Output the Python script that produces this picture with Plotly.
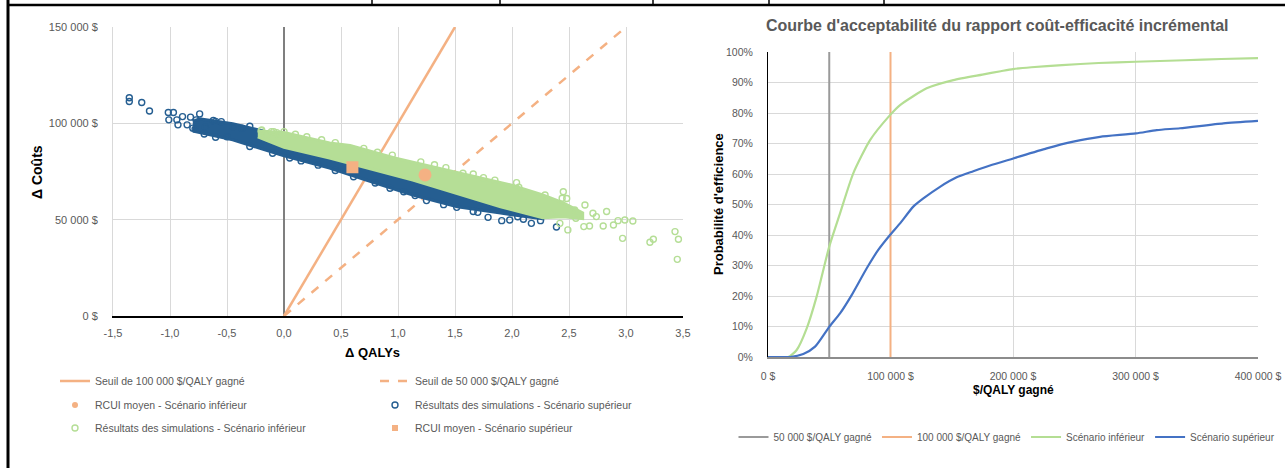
import plotly.graph_objects as go

# ---------------- DATA ----------------
# Left chart: incremental cost-effectiveness plane
left_xtick_vals = [-1.5, -1.0, -0.5, 0.0, 0.5, 1.0, 1.5, 2.0, 2.5, 3.0, 3.5]
left_xtick_text = ["-1,5", "-1,0", "-0,5", "0,0", "0,5", "1,0", "1,5", "2,0", "2,5", "3,0", "3,5"]
left_ytick_vals = [0, 50000, 100000, 150000]
left_ytick_text = ["0 $", "50 000 $", "100 000 $", "150 000 $"]

# WTP threshold lines (Δ cost = WTP × Δ QALY)
seuil_100k_x = [0.0, 1.5]
seuil_100k_y = [0, 150000]
seuil_50k_x = [0.0, 3.0]
seuil_50k_y = [0, 150000]

# Dense core of simulated results – outline of the cloud
sup_band_x = [-0.80, -0.74, -0.45, -0.23, 0.00, 0.50, 1.00, 1.50, 2.00, 2.27,
              2.27, 2.00, 1.90, 1.52, 1.13, 0.70, 0.40, 0.00, -0.45, -0.80]
sup_band_y = [101000, 102300, 99800, 96600, 93500, 86500, 78000, 69000, 59000, 53000,
              50500, 52500, 53500, 56700, 62800, 71000, 76800, 83200, 91400, 96000]

inf_band_x = [-0.23, 0.00, 0.40, 0.58, 0.97, 1.55, 1.99, 2.27, 2.45, 2.62,
              2.62, 2.45, 2.27, 1.90, 1.13, 0.40, 0.00, -0.23]
inf_band_y = [96000, 95300, 89800, 88500, 82000, 74200, 68000, 62800, 58700, 53500,
              50500, 51500, 51000, 56700, 70600, 82000, 87500, 93000]

# Individually visible simulation points (edges and outliers)
sup_pts_x = [-1.357, -1.357, -1.248, -1.18, -1.015, -0.97, -1.01, -0.94, -0.89, -0.93,
             -0.82, -0.74, -0.85, -0.77, -0.445, -0.37, -0.55, -0.80, -0.69, -0.62,
             -0.60, -0.30, -0.10, 0.15, 0.30, 0.61, 0.93, 1.15, 1.25, 1.515,
             1.66, 1.79, 1.91, 1.98, 2.10, 2.17, 2.25, 2.39, 0.80, 1.40,
             -0.60, -0.30, -0.70, -0.50, 0.05, 0.45, 1.05, 1.70, 2.05, -0.78]
sup_pts_y = [113300, 111300, 110800, 106400, 105600, 105600, 101800, 101800, 103500, 99200,
             103200, 104900, 99200, 101800, 98300, 97500, 100900, 97500, 98000, 101500,
             92800, 88000, 84500, 80500, 78300, 72300, 66300, 62500, 59900, 56400,
             54200, 51200, 49500, 49800, 50200, 48100, 49500, 46200, 69000, 57800,
             101000, 98500, 94500, 93000, 82000, 75500, 64500, 53800, 51500, 97000]

inf_pts_x = [-0.196, -0.11, -0.064, 0.00, -0.15, -0.05, -0.20, -0.09, 0.20, 0.45,
             0.70, 0.95, 1.20, 1.42, 1.57, 1.66, 1.85, 2.04, 2.06, 2.29,
             2.45, 2.44, 2.48, 2.64, 2.83, 2.71, 2.74, 2.93, 2.99, 3.06,
             2.89, 2.80, 2.63, 2.49, 2.97, 3.21, 3.24, 3.43, 3.46, 3.45,
             2.56, 2.68, 2.42, 2.55, 2.35, 0.10, 0.33, 0.82, 1.32, 1.75]
inf_pts_y = [96600, 95700, 95200, 95700, 94000, 94000, 96200, 95700, 93000, 90000,
             87000, 83500, 80000, 77000, 74100, 73700, 70500, 69200, 66800, 62800,
             64500, 61100, 61000, 57600, 54200, 53300, 51600, 49500, 49800, 49300,
             47200, 46700, 46400, 44700, 40300, 38300, 39800, 43800, 39800, 29400,
             50700, 46700, 48100, 55000, 53000, 94300, 91500, 85000, 78500, 71800]

# Mean ICERs
rcui_inf_x = [1.237]
rcui_inf_y = [73200]
rcui_sup_x = [0.60]
rcui_sup_y = [77200]

# Right chart: cost-effectiveness acceptability curves
right_xtick_vals = [0, 100000, 200000, 300000, 400000]
right_xtick_text = ["0 $", "100 000 $", "200 000 $", "300 000 $", "400 000 $"]
right_ytick_vals = [0, 0.1, 0.2, 0.3, 0.4, 0.5, 0.6, 0.7, 0.8, 0.9, 1.0]
right_ytick_text = ["0%", "10%", "20%", "30%", "40%", "50%", "60%", "70%", "80%", "90%", "100%"]

wtp_inf = [0, 16600, 23400, 31600, 39700, 50000, 58800, 69600, 83300, 99600, 107800,
           129500, 151300, 175000, 190000, 200000, 215000, 240000, 270000, 300000,
           340000, 370000, 400000]
prob_inf = [0.0, 0.0, 0.023, 0.094, 0.198, 0.362, 0.471, 0.602, 0.711, 0.793, 0.826,
            0.881, 0.908, 0.926, 0.937, 0.944, 0.950, 0.957, 0.964, 0.968,
            0.973, 0.977, 0.980]

wtp_sup = [0, 18000, 28800, 38400, 50000, 58800, 68300, 80600, 90000, 99600, 107800,
           118600, 126800, 140400, 154000, 167600, 181200, 200200, 227500, 249200,
           271000, 300400, 317300, 336300, 371700, 400000]
prob_sup = [0.0, 0.0, 0.010, 0.034, 0.099, 0.143, 0.203, 0.291, 0.351, 0.400, 0.438,
            0.493, 0.520, 0.558, 0.589, 0.609, 0.628, 0.651, 0.684, 0.706,
            0.722, 0.733, 0.744, 0.750, 0.766, 0.774]

seuil_50k_vx = [50000, 50000]
seuil_100k_vx = [100000, 100000]
vline_y = [0, 1]

# ---------------- STYLE ----------------
W, H = 1285, 468
DARK_BLUE = "#255E91"
LIGHT_GREEN = "#B5DE96"
ORANGE = "#F4B183"
CURVE_GREEN = "#B4DE93"
CURVE_BLUE = "#4472C4"
GRAY_LINE = "#9A9A9A"
GRID = "#D9D9D9"
TXT = "#595959"
FONT = "Liberation Sans"


def fx(p):
    return p / W


def fy(p):
    return 1 - p / H


fig = go.Figure()

# --- left chart traces ---
fig.add_trace(go.Scatter(x=seuil_100k_x, y=seuil_100k_y, mode="lines",
                         line=dict(color=ORANGE, width=2.5),
                         name="Seuil de 100 000 $/QALY gagné", legend="legend",
                         xaxis="x", yaxis="y", hoverinfo="skip"))
fig.add_trace(go.Scatter(x=seuil_50k_x, y=seuil_50k_y, mode="lines",
                         line=dict(color=ORANGE, width=2.5, dash="dash"),
                         name="Seuil de 50 000 $/QALY gagné", legend="legend2",
                         xaxis="x", yaxis="y", hoverinfo="skip"))

fig.add_trace(go.Scatter(x=sup_band_x, y=sup_band_y, mode="lines", fill="toself",
                         fillcolor=DARK_BLUE, line=dict(color=DARK_BLUE, width=3),
                         showlegend=False, xaxis="x", yaxis="y", hoverinfo="skip"))
fig.add_trace(go.Scatter(x=sup_pts_x, y=sup_pts_y, mode="markers",
                         marker=dict(symbol="circle-open", size=6, color=DARK_BLUE,
                                     line=dict(width=1.4, color=DARK_BLUE)),
                         name="Résultats des simulations - Scénario supérieur",
                         legend="legend4", xaxis="x", yaxis="y"))

fig.add_trace(go.Scatter(x=inf_band_x, y=inf_band_y, mode="lines", fill="toself",
                         fillcolor=LIGHT_GREEN, line=dict(color=LIGHT_GREEN, width=3),
                         showlegend=False, xaxis="x", yaxis="y", hoverinfo="skip"))
fig.add_trace(go.Scatter(x=inf_pts_x, y=inf_pts_y, mode="markers",
                         marker=dict(symbol="circle-open", size=6, color=LIGHT_GREEN,
                                     line=dict(width=1.4, color=LIGHT_GREEN)),
                         name="Résultats des simulations - Scénario inférieur",
                         legend="legend5", xaxis="x", yaxis="y"))

fig.add_trace(go.Scatter(x=rcui_inf_x, y=rcui_inf_y, mode="markers",
                         marker=dict(symbol="circle", size=13, color=ORANGE),
                         showlegend=False, xaxis="x", yaxis="y"))
fig.add_trace(go.Scatter(x=rcui_sup_x, y=rcui_sup_y, mode="markers",
                         marker=dict(symbol="square", size=12, color=ORANGE),
                         showlegend=False, xaxis="x", yaxis="y"))
# legend entries (small symbols, as in the reference legend)
fig.add_trace(go.Scatter(x=[None], y=[None], mode="markers",
                         marker=dict(symbol="circle", size=6, color=ORANGE),
                         name="RCUI moyen - Scénario inférieur", legend="legend3",
                         xaxis="x", yaxis="y"))
fig.add_trace(go.Scatter(x=[None], y=[None], mode="markers",
                         marker=dict(symbol="square", size=6, color=ORANGE),
                         name="RCUI moyen - Scénario supérieur", legend="legend6",
                         xaxis="x", yaxis="y"))

# --- right chart traces ---
fig.add_trace(go.Scatter(x=seuil_50k_vx, y=vline_y, mode="lines",
                         line=dict(color=GRAY_LINE, width=2),
                         name="50 000 $/QALY gagné", legend="legend7",
                         xaxis="x2", yaxis="y2", hoverinfo="skip"))
fig.add_trace(go.Scatter(x=seuil_100k_vx, y=vline_y, mode="lines",
                         line=dict(color=ORANGE, width=2),
                         name="100 000 $/QALY gagné", legend="legend7",
                         xaxis="x2", yaxis="y2", hoverinfo="skip"))
fig.add_trace(go.Scatter(x=wtp_inf, y=prob_inf, mode="lines",
                         line=dict(color=CURVE_GREEN, width=2.2, shape="spline", smoothing=0.6),
                         name="Scénario inférieur", legend="legend7",
                         xaxis="x2", yaxis="y2"))
fig.add_trace(go.Scatter(x=wtp_sup, y=prob_sup, mode="lines",
                         line=dict(color=CURVE_BLUE, width=2.2, shape="spline", smoothing=0.6),
                         name="Scénario supérieur", legend="legend7",
                         xaxis="x2", yaxis="y2"))

tickfont = dict(family=FONT, size=11, color=TXT)
tickfont_r = dict(family=FONT, size=10.5, color=TXT)
legfont = dict(family=FONT, size=10.5, color=TXT)
legfont_r = dict(family=FONT, size=10, color=TXT)


def leg(xp, yp):
    return dict(x=fx(xp), y=fy(yp), xanchor="left", yanchor="middle",
                bgcolor="rgba(0,0,0,0)", borderwidth=0, font=legfont,
                orientation="v")


fig.update_layout(
    width=W, height=H, autosize=False,
    margin=dict(l=0, r=0, t=0, b=0, autoexpand=False),
    paper_bgcolor="white", plot_bgcolor="white",
    font=dict(family=FONT, color=TXT),
    xaxis=dict(domain=[fx(113), fx(683)], range=[-1.5, 3.5],
               tickvals=left_xtick_vals, ticktext=left_xtick_text,
               showgrid=True, gridcolor=GRID, gridwidth=1,
               zeroline=True, zerolinecolor="#7F7F7F", zerolinewidth=2,
               showline=True, linecolor="#000000", linewidth=1.5,
               ticks="", ticklabelstandoff=6, tickfont=tickfont,
               anchor="y", fixedrange=True, automargin=False),
    yaxis=dict(domain=[fy(316), fy(27)], range=[0, 150000],
               tickvals=left_ytick_vals, ticktext=left_ytick_text,
               showgrid=True, gridcolor=GRID, gridwidth=1,
               zeroline=False, showline=True, linecolor=GRID, linewidth=1,
               ticks="", ticklabelstandoff=12, tickfont=tickfont,
               anchor="x", fixedrange=True, automargin=False),
    xaxis2=dict(domain=[fx(768), fx(1258)], range=[0, 400000],
                tickvals=right_xtick_vals, ticktext=right_xtick_text,
                showgrid=True, gridcolor=GRID, gridwidth=1,
                zeroline=False, showline=True, linecolor="#8C8C8C", linewidth=2,
                ticks="", ticklabelstandoff=8, tickfont=tickfont_r,
                anchor="y2", fixedrange=True, automargin=False),
    yaxis2=dict(domain=[fy(357), fy(52)], range=[0, 1],
                tickvals=right_ytick_vals, ticktext=right_ytick_text,
                showgrid=True, gridcolor=GRID, gridwidth=1,
                zeroline=False, showline=True, linecolor="#000000", linewidth=1,
                ticks="", ticklabelstandoff=12, tickfont=tickfont_r,
                anchor="x2", fixedrange=True, automargin=False),
    legend=leg(55, 381),
    legend2=leg(375, 381),
    legend3=leg(55, 405),
    legend4=leg(375, 405),
    legend5=leg(55, 428),
    legend6=leg(375, 428),
    legend7=dict(x=fx(1007), y=fy(437), xanchor="center", yanchor="middle",
                 orientation="h", bgcolor="rgba(0,0,0,0)", font=legfont_r),
    showlegend=True,
)

# Axis titles and chart title
ann = [
    dict(text="<b>Δ Coûts</b>", x=fx(37), y=fy(172), textangle=-90,
         font=dict(family=FONT, size=14, color="#000000")),
    dict(text="<b>Δ QALYs</b>", x=fx(372), y=fy(352),
         font=dict(family=FONT, size=13, color="#000000")),
    dict(text="<b>Probabilité d'efficience</b>", x=fx(718), y=fy(204), textangle=-90,
         font=dict(family=FONT, size=13, color="#000000")),
    dict(text="<b>$/QALY gagné</b>", x=fx(1013), y=fy(390),
         font=dict(family=FONT, size=12, color="#000000")),
    dict(text="<b>Courbe d'acceptabilité du rapport coût-efficacité incrémental</b>",
         x=fx(997), y=fy(25), font=dict(family=FONT, size=16, color=TXT)),
]
for a in ann:
    a.update(xref="paper", yref="paper", showarrow=False, xanchor="center", yanchor="middle")
fig.update_layout(annotations=ann)

# Page/table border lines around the charts
shapes = [
    dict(type="line", xref="paper", yref="paper", x0=fx(7), x1=1, y0=fy(5), y1=fy(5),
         line=dict(color="#000000", width=2.5)),
    dict(type="line", xref="paper", yref="paper", x0=fx(8), x1=fx(8), y0=0, y1=1,
         line=dict(color="#000000", width=3)),
]
for xp in [372, 500, 653, 769, 884]:
    shapes.append(dict(type="line", xref="paper", yref="paper", x0=fx(xp), x1=fx(xp),
                       y0=fy(5), y1=1, line=dict(color="#000000", width=1.5)))
fig.update_layout(shapes=shapes)

# the page's default 8px body margin would shift the figure: remove it
fig.write_html("out.html",
               config={"displayModeBar": False, "staticPlot": True},
               post_script="document.body.style.margin='0';document.body.style.overflow='hidden';")
